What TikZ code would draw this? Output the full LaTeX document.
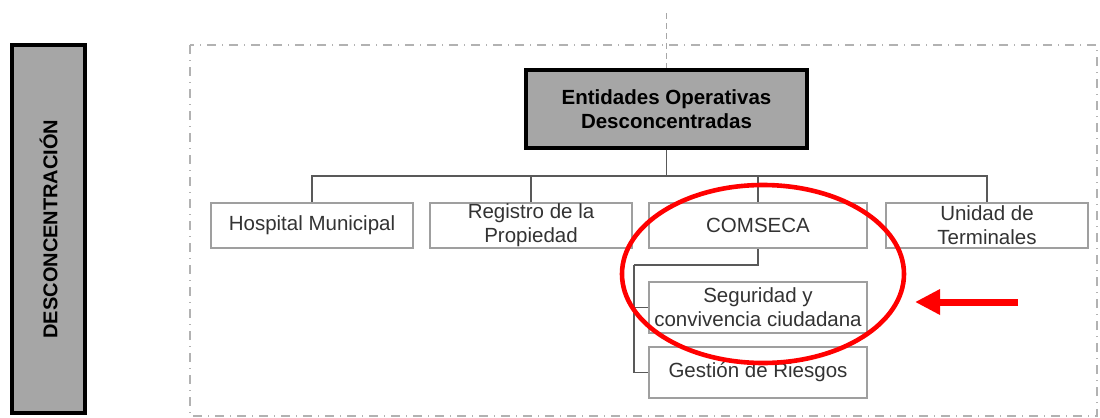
\documentclass[tikz,border=0pt]{standalone}
\usepackage{fontspec}
\setmainfont{Liberation Sans}
\usetikzlibrary{positioning,arrows.meta,shapes.geometric}

\begin{document}
\begin{tikzpicture}[x=0.5pt,y=-0.5pt,
  unit/.style={rectangle,draw=gray!75,line width=1pt,fill=white,align=center,inner sep=0pt,
    minimum width=101pt,minimum height=22.5pt,text=black!80,font=\fontsize{10.25}{12}\selectfont},
  wide/.style={unit,minimum width=109pt},
  sub/.style={unit,minimum width=109pt,minimum height=25.5pt},
  head/.style={rectangle,draw=black,line width=1.6pt,fill=gray!70,align=center,inner sep=0pt,
    minimum width=140.5pt,minimum height=39pt,font=\bfseries\fontsize{10.25}{12}\selectfont},
  conn/.style={draw=black!65,line width=0.75pt},
  frame/.style={draw=gray!60,line width=0.6pt,dash pattern=on 4.5pt off 3pt on 0.5pt off 3pt},
  ringmark/.style={draw=red,line width=2.3pt,inner sep=0pt},
  pointer/.style={red,line width=3.5pt,-{Triangle[length=12.5pt,width=12pt]}}
]
\useasboundingbox (0,0) rectangle (1100,418);
\draw[frame] (190,45) rectangle (1097,416);
\node[head,minimum width=36.5pt,minimum height=184pt] (bar) at (48.5,229)
  {\rotatebox{90}{\fontsize{10}{12}\selectfont DESCONCENTRACIÓN}};
\node[head] (main) at (666.5,109) {Entidades Operativas\\Desconcentradas};
\draw[draw=gray!70,line width=0.6pt,dash pattern=on 3pt off 2pt] (666.5,13) -- (main.north);
\node[unit] (hosp) at (312,225.5) {Hospital Municipal};
\node[unit] (reg) at (531,225.5) {Registro de la\\Propiedad};
\node[wide] (comseca) at (758,225.5) {COMSECA};
\node[unit] (term) at (987,225.5) {Unidad de\\Terminales};
\node[sub] (segur) at (758,307.5) {Seguridad y\\convivencia ciudadana};
\node[sub] (gest) at (758,372.5) {Gestión de Riesgos};
\coordinate (bus) at (666.5,176);
\coordinate (fork) at (634,265);
\draw[conn] (main) -- (bus);
\draw[conn] (bus) -| (hosp);
\draw[conn] (bus) -| (reg);
\draw[conn] (bus) -| (comseca);
\draw[conn] (bus) -| (term);
\draw[conn] (comseca) |- (fork);
\draw[conn] (fork) |- (segur);
\draw[conn] (fork) |- (gest);
\node[ringmark,ellipse,minimum width=141pt,minimum height=89pt] (ring) at (763,274) {};
\coordinate (tail) at (1018,302);
\coordinate (tip) at (915,302);
\draw[pointer] (tail) -- (tip);
\end{tikzpicture}
\end{document}
